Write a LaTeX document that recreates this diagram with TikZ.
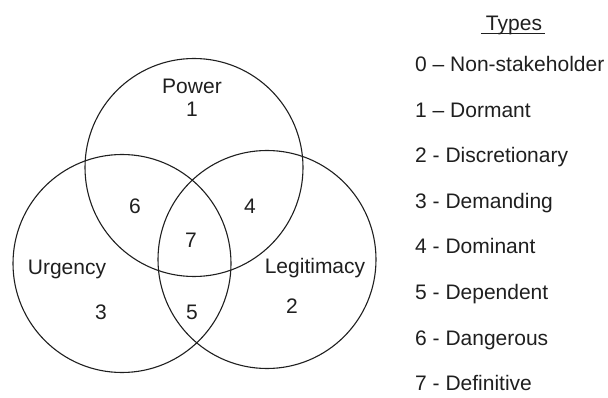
\documentclass[tikz,border=0pt]{standalone}
\usepackage{fontspec}
\setmainfont{Liberation Sans}
\begin{document}
\begin{tikzpicture}[x=1pt, y=-1pt,
  lbl/.style={font=\fontsize{21}{25}\selectfont, text=black!88, inner sep=0pt, anchor=base},
  item/.style={lbl, anchor=base west},
  ring/.style={draw=black!88, line width=1.1pt}]
\useasboundingbox (0,0) rectangle (608,398);

% the three stakeholder attributes
\draw[ring] (194,167.5) circle[radius=109pt];
\draw[ring] (122,263.5) circle[radius=109pt];
\draw[ring] (267,259.5) circle[radius=109pt];

% attribute names and region numbers
\node[lbl] (power) at (192,93.5) {Power};
\node[lbl] (n1) at (192,117) {1};
\node[lbl] (n6) at (135,214) {6};
\node[lbl] (n4) at (250,214) {4};
\node[lbl] (n7) at (191,248) {7};
\node[lbl] (urg) at (67,275) {Urgency};
\node[lbl] (leg) at (315,273) {Legitimacy};
\node[lbl] (n3) at (101,319) {3};
\node[lbl] (n5) at (192,319) {5};
\node[lbl] (n2) at (292,313) {2};

% legend
\node[lbl] (types) at (514,31) {Types};
\draw[black!88, line width=1pt] ([xshift=-5pt,yshift=-2.5pt]types.base west) -- ([xshift=3pt,yshift=-2.5pt]types.base east);
\node[item] (t0) at (415,72)    {0 – Non-stakeholder};
\node[item] (t1) at (415,117.5) {1 – Dormant};
\node[item] (t2) at (415,163)   {2 - Discretionary};
\node[item] (t3) at (415,208.5) {3 - Demanding};
\node[item] (t4) at (415,254)   {4 - Dominant};
\node[item] (t5) at (415,299.5) {5 - Dependent};
\node[item] (t6) at (415,345)   {6 - Dangerous};
\node[item] (t7) at (415,390.5) {7 - Definitive};
\end{tikzpicture}
\end{document}
